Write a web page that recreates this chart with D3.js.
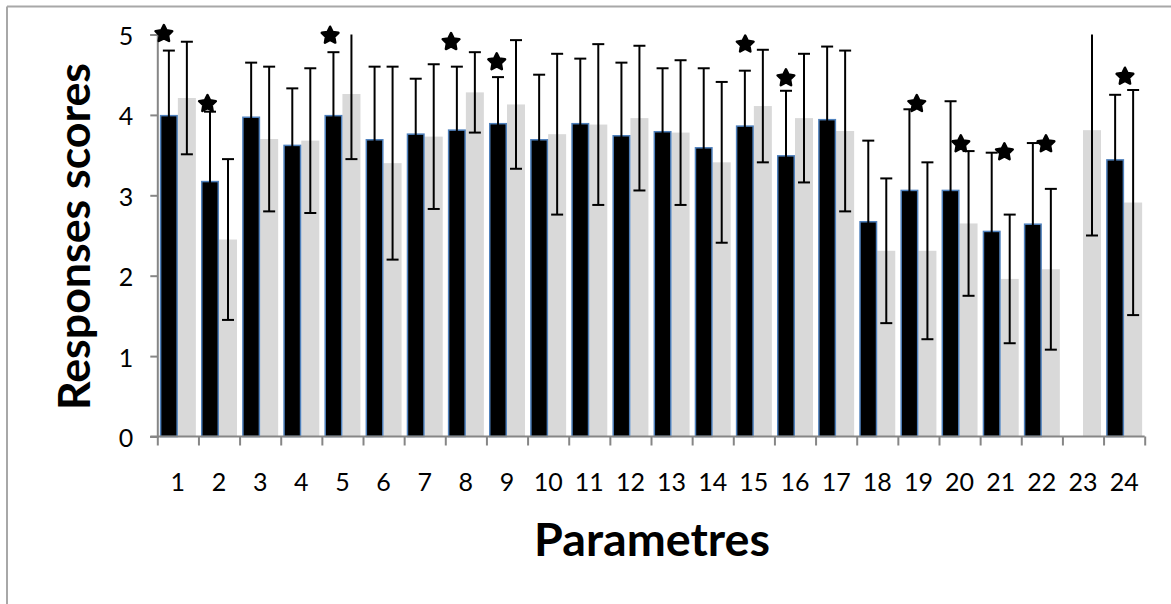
<!DOCTYPE html>
<html>
<head>
<meta charset="utf-8">
<script src="https://cdn.jsdelivr.net/npm/d3@7/dist/d3.min.js"></script>
<style>
  html, body { margin: 0; padding: 0; background: #fff; }
  svg { display: block; }
</style>
</head>
<body>
<svg id="chart" width="1171" height="604"></svg>
<script>
// ---------------- DATA ----------------
const categories = ["1","2","3","4","5","6","7","8","9","10","11","12","13","14","15","16","17","18","19","20","21","22","23","24"];
const seriesA = [4.00, 3.18, 3.98, 3.63, 4.00, 3.70, 3.77, 3.82, 3.90, 3.70, 3.90, 3.75, 3.80, 3.60, 3.87, 3.50, 3.95, 2.68, 3.07, 3.07, 2.56, 2.65, 0, 3.45];
const errorA  = [0.80, 0.86, 0.67, 0.70, 0.78, 0.90, 0.68, 0.78, 0.57, 0.80, 0.80, 0.90, 0.78, 0.98, 0.68, 0.80, 0.90, 1.00, 1.00, 1.10, 0.97, 1.00, 0, 0.80];
const seriesB = [4.21, 2.45, 3.70, 3.68, 4.26, 3.40, 3.73, 4.28, 4.13, 3.76, 3.88, 3.96, 3.78, 3.41, 4.11, 3.96, 3.80, 2.31, 2.31, 2.65, 1.96, 2.08, 3.81, 2.91];
const errorB  = [0.70, 1.00, 0.90, 0.90, 0.81, 1.20, 0.90, 0.50, 0.80, 1.00, 1.00, 0.90, 0.90, 1.00, 0.70, 0.80, 1.00, 0.90, 1.10, 0.90, 0.80, 1.00, 1.31, 1.40];
// significance stars: position along category axis (category units) and value
const starPos   = [0.66, 1.72, 4.70, 7.64, 8.75, 14.79, 15.78, 18.96, 20.03, 21.09, 22.10, 24.02];
const starValue = [5.02, 4.15, 5.00, 4.92, 4.67, 4.89, 4.47, 4.15, 3.65, 3.55, 3.65, 4.49];
const yTicks = [0, 1, 2, 3, 4, 5];
const yTitle = "Responses scores";
const xTitle = "Parametres";

// ---------------- LAYOUT ----------------
const svg = d3.select("#chart");
const pLeft = 157.3, pRight = 1144.7, pTop = 34.5, pBottom = 436.5;
const axisColor = "#868686";

// frame (top & left edges of the chart area)
svg.append("line").attr("x1", 7).attr("x2", 1171).attr("y1", 6.5).attr("y2", 6.5)
  .attr("stroke", "#a8a8a8").attr("stroke-width", 2);
svg.append("line").attr("x1", 7).attr("x2", 7).attr("y1", 6.5).attr("y2", 604)
  .attr("stroke", "#a8a8a8").attr("stroke-width", 2);

const y = d3.scaleLinear().domain([0, 5]).range([pBottom, pTop]);
const x0 = d3.scaleBand().domain(categories).range([pLeft, pRight]).padding(0);
const x1 = d3.scaleBand().domain(["A", "B"]).range([0, x0.bandwidth()]).paddingInner(0).paddingOuter(0.143);
const xLin = d3.scaleLinear().domain([0.5, categories.length + 0.5]).range([pLeft, pRight]);

const rows = categories.map((c, i) => ({
  cat: c, a: seriesA[i], ea: errorA[i], b: seriesB[i], eb: errorB[i]
}));

// bars
const gBars = svg.append("g");
gBars.selectAll("rect.b").data(rows).join("rect")
  .attr("class", "b")
  .attr("x", d => x0(d.cat) + x1("B"))
  .attr("width", x1.bandwidth())
  .attr("y", d => y(d.b))
  .attr("height", d => y(0) - y(d.b))
  .attr("fill", "#d9d9d9");
gBars.selectAll("rect.a").data(rows.filter(d => d.a > 0)).join("rect")
  .attr("class", "a")
  .attr("x", d => x0(d.cat) + x1("A") + 0.75)
  .attr("width", x1.bandwidth() - 1.5)
  .attr("y", d => y(d.a) + 0.75)
  .attr("height", d => y(0) - y(d.a) - 0.75)
  .attr("fill", "#000")
  .attr("stroke", "#4f81bd")
  .attr("stroke-width", 1.5);

// error bars
const capHalf = 6;
const errData = [];
rows.forEach(d => {
  if (d.a > 0) errData.push({ cx: x0(d.cat) + x1("A") + x1.bandwidth() / 2, v: d.a, e: d.ea });
  errData.push({ cx: x0(d.cat) + x1("B") + x1.bandwidth() / 2, v: d.b, e: d.eb });
});
const gErr = svg.append("g").attr("stroke", "#000").attr("stroke-width", 2);
errData.forEach(d => {
  const hi = d.v + d.e, lo = d.v - d.e;
  const hiC = Math.min(hi, 5), loC = Math.max(lo, 0);
  gErr.append("line").attr("x1", d.cx).attr("x2", d.cx).attr("y1", y(hiC)).attr("y2", y(loC));
  if (hi <= 5.001) gErr.append("line").attr("x1", d.cx - capHalf).attr("x2", d.cx + capHalf).attr("y1", y(hi)).attr("y2", y(hi));
  if (lo >= 0) gErr.append("line").attr("x1", d.cx - capHalf).attr("x2", d.cx + capHalf).attr("y1", y(lo)).attr("y2", y(lo));
});

// y axis
const yAxis = svg.append("g").attr("transform", `translate(${pLeft},0)`)
  .call(d3.axisLeft(y).tickValues(yTicks).tickSize(7).tickPadding(0).tickFormat(d3.format("d")));
yAxis.select(".domain").attr("stroke", axisColor).attr("stroke-width", 2);
yAxis.selectAll(".tick line").attr("stroke", axisColor).attr("stroke-width", 2);
yAxis.selectAll(".tick text")
  .attr("x", -24).attr("dy", null).attr("y", 10)
  .attr("fill", "#000")
  .style("font-family", "Lato, 'Open Sans', sans-serif").style("font-size", "25px");

// x axis: ticks at category boundaries
const xAxis = svg.append("g").attr("transform", `translate(0,${pBottom})`)
  .call(d3.axisBottom(xLin).tickValues(d3.range(0.5, categories.length + 1, 1)).tickSize(9).tickFormat(""));
xAxis.select(".domain").attr("d", `M${pLeft - 7},0H${pRight}`).attr("stroke", axisColor).attr("stroke-width", 2);
xAxis.selectAll(".tick line").attr("stroke", axisColor).attr("stroke-width", 2);
// category labels
const xLabels = svg.append("g").attr("transform", `translate(0,${pBottom})`)
  .call(d3.axisBottom(x0).tickSize(0));
xLabels.select(".domain").remove();
xLabels.selectAll(".tick text")
  .attr("dy", null).attr("y", 54)
  .attr("fill", "#000")
  .style("font-family", "Lato, 'Open Sans', sans-serif").style("font-size", "25px");

// stars (chunky rounded five-pointed star)
const fatStar = {
  draw(context, size) {
    const r = Math.sqrt(size) * 0.62, ri = r * 0.5;
    for (let k = 0; k < 10; k++) {
      const rr = k % 2 ? ri : r;
      const a = -Math.PI / 2 + k * Math.PI / 5;
      const px = rr * Math.cos(a), py = rr * Math.sin(a);
      if (k === 0) context.moveTo(px, py); else context.lineTo(px, py);
    }
    context.closePath();
  }
};
const star = d3.symbol().type(fatStar).size(200);
svg.append("g").selectAll("path").data(starPos.map((p, i) => ({ p, v: starValue[i] }))).join("path")
  .attr("d", star)
  .attr("transform", d => `translate(${xLin(d.p)},${y(d.v) + 1})`)
  .attr("fill", "#000").attr("stroke", "#000").attr("stroke-width", 2.5).attr("stroke-linejoin", "round");

// titles (fitted to measured widths)
function fitText(sel, target) {
  const len = sel.node().getComputedTextLength();
  const fs = parseFloat(sel.style("font-size"));
  sel.style("font-size", (fs * target / len) + "px");
}
const xt = svg.append("text").text(xTitle)
  .attr("x", (pLeft + pRight) / 2 + 1).attr("y", 556)
  .attr("text-anchor", "middle").attr("fill", "#000")
  .style("font-family", "Lato, 'Open Sans', sans-serif").style("font-weight", "bold").style("font-size", "44px");
fitText(xt, 236);
const yt = svg.append("text").text(yTitle)
  .attr("transform", `translate(90,${(pTop + pBottom) / 2 + 1}) rotate(-90)`)
  .attr("text-anchor", "middle").attr("fill", "#000")
  .style("font-family", "Lato, 'Open Sans', sans-serif").style("font-weight", "bold").style("font-size", "44px");
fitText(yt, 347);
</script>
</body>
</html>
